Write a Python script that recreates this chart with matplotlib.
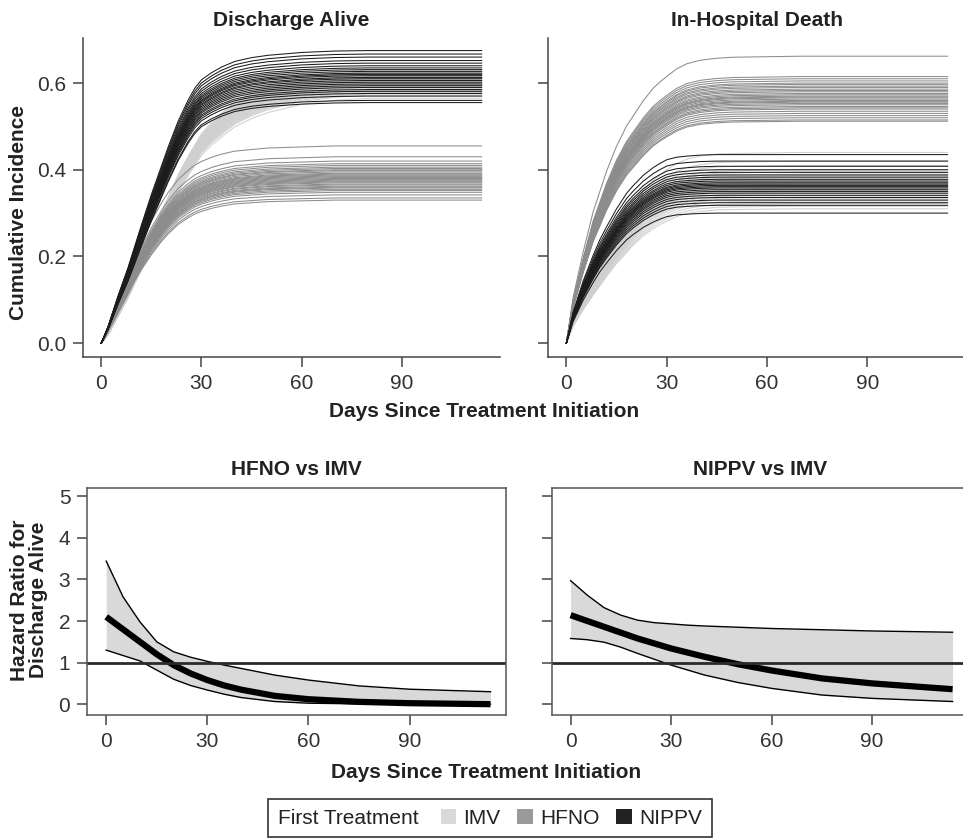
import numpy as np
import matplotlib
matplotlib.use('Agg')
import matplotlib.pyplot as plt
from matplotlib.patches import Patch
from matplotlib.offsetbox import HPacker

plt.rcParams['font.family'] = ['Liberation Sans', 'DejaVu Sans']

# ---- top row: cumulative incidence curves ----
days = [0, 2, 5, 8, 10, 12, 15, 18, 20, 23, 26, 28, 30, 33, 36, 40, 45, 50, 60, 70, 80, 114]

# typical curve for each first treatment, and the plateau each curve settles at
da_imv_curve = [0, 0.02, 0.065, 0.11, 0.145, 0.18, 0.235, 0.29, 0.32, 0.37, 0.41, 0.435, 0.46,
                0.485, 0.505, 0.53, 0.55, 0.565, 0.585, 0.595, 0.60, 0.60]
da_hfno_curve = [0, 0.03, 0.08, 0.13, 0.165, 0.195, 0.235, 0.27, 0.29, 0.315, 0.333, 0.343, 0.35,
                 0.358, 0.364, 0.37, 0.373, 0.376, 0.378, 0.38, 0.38, 0.38]
da_nippv_curve = [0, 0.035, 0.10, 0.16, 0.205, 0.25, 0.315, 0.375, 0.415, 0.47, 0.515, 0.54, 0.558,
                  0.573, 0.585, 0.597, 0.605, 0.61, 0.616, 0.619, 0.62, 0.62]

da_imv_levels = [0.565, 0.572, 0.578, 0.583, 0.587, 0.59, 0.594, 0.597, 0.60, 0.603, 0.606, 0.609,
                 0.612, 0.615, 0.618, 0.622, 0.626, 0.63, 0.58, 0.595, 0.605, 0.61, 0.6, 0.592,
                 0.585, 0.575, 0.62, 0.614, 0.598, 0.608]
da_hfno_levels = [0.33, 0.335, 0.342, 0.348, 0.352, 0.355, 0.358, 0.36, 0.362, 0.365, 0.367, 0.37,
                  0.372, 0.374, 0.376, 0.378, 0.38, 0.382, 0.384, 0.386, 0.388, 0.39, 0.392, 0.395,
                  0.398, 0.40, 0.403, 0.406, 0.41, 0.414, 0.42, 0.43, 0.455]
da_nippv_levels = [0.555, 0.56, 0.57, 0.576, 0.581, 0.585, 0.59, 0.594, 0.598, 0.602, 0.606,
                   0.61, 0.613, 0.617, 0.62, 0.623, 0.627, 0.631, 0.635, 0.64, 0.646, 0.652,
                   0.66, 0.667, 0.675]

ihd_imv_curve = [0, 0.045, 0.09, 0.13, 0.155, 0.18, 0.215, 0.245, 0.265, 0.29, 0.31, 0.32, 0.33,
                 0.342, 0.35, 0.356, 0.36, 0.361, 0.362, 0.363, 0.363, 0.363]
ihd_hfno_curve = [0, 0.09, 0.18, 0.26, 0.30, 0.34, 0.39, 0.43, 0.45, 0.48, 0.505, 0.517, 0.528,
                  0.543, 0.553, 0.56, 0.564, 0.566, 0.567, 0.568, 0.568, 0.568]
ihd_nippv_curve = [0, 0.06, 0.12, 0.17, 0.20, 0.225, 0.26, 0.29, 0.305, 0.325, 0.34, 0.348, 0.355,
                   0.36, 0.362, 0.364, 0.365, 0.365, 0.365, 0.365, 0.365, 0.365]

ihd_imv_levels = [0.31, 0.316, 0.322, 0.328, 0.333, 0.337, 0.341, 0.345, 0.349, 0.352, 0.355, 0.358,
                  0.361, 0.364, 0.367, 0.37, 0.374, 0.378, 0.382, 0.386, 0.39, 0.395, 0.40, 0.41,
                  0.42, 0.44]
ihd_hfno_levels = [0.512, 0.515, 0.52, 0.525, 0.53, 0.535, 0.54, 0.543, 0.546, 0.55, 0.553, 0.556,
                   0.558, 0.56, 0.563, 0.566, 0.568, 0.57, 0.573, 0.576, 0.58, 0.583, 0.586, 0.59,
                   0.593, 0.597, 0.60, 0.605, 0.61, 0.615, 0.662]
ihd_nippv_levels = [0.30, 0.318, 0.324, 0.33, 0.336, 0.341, 0.346, 0.35, 0.354, 0.358, 0.361,
                    0.364, 0.367, 0.37, 0.374, 0.378, 0.383, 0.388, 0.394, 0.40, 0.408, 0.42, 0.435]

# ---- bottom row: hazard ratio over time with band ----
hr_days = [0, 5, 10, 15, 20, 25, 30, 35, 40, 50, 60, 75, 90, 114]
hfno_est = [2.1, 1.8, 1.5, 1.2, 0.94, 0.74, 0.58, 0.45, 0.35, 0.2, 0.12, 0.056, 0.024, 0.0]
hfno_low = [1.3, 1.17, 1.04, 0.82, 0.6, 0.45, 0.34, 0.24, 0.16, 0.064, 0.024, 0.008, 0.002, 0.0]
hfno_high = [3.44, 2.58, 1.98, 1.5, 1.26, 1.13, 1.03, 0.94, 0.86, 0.7, 0.58, 0.44, 0.36, 0.3]

nippv_est = [2.14, 2.0, 1.86, 1.72, 1.58, 1.46, 1.34, 1.24, 1.14, 0.96, 0.81, 0.62, 0.5, 0.36]
nippv_low = [1.58, 1.55, 1.49, 1.37, 1.22, 1.08, 0.94, 0.82, 0.70, 0.52, 0.38, 0.22, 0.14, 0.064]
nippv_high = [2.97, 2.62, 2.32, 2.14, 2.02, 1.96, 1.93, 1.9, 1.88, 1.85, 1.82, 1.79, 1.76, 1.73]

groups = ['IMV', 'HFNO', 'NIPPV']
line_colors = {'IMV': '#cfcfcf', 'HFNO': '#8c8c8c', 'NIPPV': '#1c1c1c'}
legend_colors = {'IMV': '#d9d9d9', 'HFNO': '#9a9a9a', 'NIPPV': '#222222'}

axis_col = '#444444'
tick_col = '#333333'

fig = plt.figure(figsize=(9.63, 8.4), dpi=100)
W, H = 963.0, 840.0


def px_axes(x0, y0, x1, y1):
    # axes from pixel box (top-left origin)
    return fig.add_axes([x0 / W, 1 - y1 / H, (x1 - x0) / W, (y1 - y0) / H])


ax1 = px_axes(83, 38, 500, 357)
ax2 = px_axes(548, 38, 966, 357)

top_data = [
    (ax1, 'Discharge Alive',
     {'IMV': (da_imv_curve, da_imv_levels), 'HFNO': (da_hfno_curve, da_hfno_levels),
      'NIPPV': (da_nippv_curve, da_nippv_levels)}),
    (ax2, 'In-Hospital Death',
     {'IMV': (ihd_imv_curve, ihd_imv_levels), 'HFNO': (ihd_hfno_curve, ihd_hfno_levels),
      'NIPPV': (ihd_nippv_curve, ihd_nippv_levels)}),
]

for ax, title, d in top_data:
    for g in groups:
        curve, levels = d[g]
        curve = np.array(curve)
        for lev in levels:
            ax.plot(days, curve * lev / curve[-1], color=line_colors[g], lw=0.75)
    ax.set_xlim(-5.5, 119.5)
    ax.set_ylim(-0.032, 0.704)
    ax.set_xticks([0, 30, 60, 90])
    ax.set_yticks([0.0, 0.2, 0.4, 0.6])
    ax.set_yticklabels(['0.0', '0.2', '0.4', '0.6'])
    ax.spines['top'].set_visible(False)
    ax.spines['right'].set_visible(False)
    for s in ['left', 'bottom']:
        ax.spines[s].set_color(axis_col)
        ax.spines[s].set_linewidth(1.1)
    ax.tick_params(direction='out', length=7, width=1.1, color=axis_col,
                   labelsize=15, labelcolor=tick_col, pad=5)
    ax.set_title(title, fontsize=15, fontweight='bold', color='#222222', pad=9)

ax2.tick_params(labelleft=False)

fig.text(19 / W, 1 - 212 / H, 'Cumulative Incidence', rotation=90, fontsize=15,
         fontweight='bold', color='#222222', ha='center', va='center')
fig.text(484 / W, 1 - 411 / H, 'Days Since Treatment Initiation', fontsize=15,
         fontweight='bold', color='#222222', ha='center', va='center')

# bottom row
ax3 = px_axes(87, 487.5, 506, 715)
ax4 = px_axes(551.5, 487.5, 968, 715)

bottom_data = [
    (ax3, 'HFNO vs IMV', hfno_est, hfno_low, hfno_high),
    (ax4, 'NIPPV vs IMV', nippv_est, nippv_low, nippv_high),
]

for ax, title, est, low, high in bottom_data:
    ax.fill_between(hr_days, low, high, color='#d9d9d9', lw=0)
    ax.plot(hr_days, low, color='black', lw=1)
    ax.plot(hr_days, high, color='black', lw=1)
    ax.plot(hr_days, est, color='black', lw=4.5, solid_capstyle='butt')
    ax.axhline(1, color='#2a2a2a', lw=2)
    ax.set_xlim(-5.7, 118.6)
    ax.set_ylim(-0.26, 5.21)
    ax.set_xticks([0, 30, 60, 90])
    ax.set_yticks([0, 1, 2, 3, 4, 5])
    for s in ax.spines.values():
        s.set_color('#555555')
        s.set_linewidth(1.1)
    ax.tick_params(direction='out', length=7, width=1.1, color=axis_col,
                   labelsize=15, labelcolor=tick_col, pad=5)
    ax.set_title(title, fontsize=15, fontweight='bold', color='#222222', pad=9)

ax4.tick_params(labelleft=False)

fig.text(29 / W, 1 - 600 / H, 'Hazard Ratio for\nDischarge Alive', rotation=90, fontsize=15,
         fontweight='bold', color='#222222', ha='center', va='center', linespacing=1.0)
fig.text(486 / W, 1 - 772 / H, 'Days Since Treatment Initiation', fontsize=15,
         fontweight='bold', color='#222222', ha='center', va='center')

# legend with the title on the left
handles = [Patch(facecolor=legend_colors[g], edgecolor='none') for g in groups]
leg = fig.legend(handles, groups, title='First Treatment', ncol=3, loc='center',
                 bbox_to_anchor=(490 / W, 1 - 818 / H), fontsize=15, title_fontsize=15,
                 frameon=True, fancybox=False, edgecolor='#333333', framealpha=1,
                 handlelength=0.75, handleheight=0.75, handletextpad=0.35,
                 columnspacing=0.8, borderpad=0.45)
leg.get_frame().set_linewidth(1.2)
box = leg._legend_box
title_box, entries = box.get_children()[0], box.get_children()[1]
box._children = [HPacker(children=[title_box, entries], align='center', pad=0, sep=16)]
for t in leg.get_texts():
    t.set_color('#222222')
leg.get_title().set_color('#222222')

plt.savefig('out.png', dpi=100)
